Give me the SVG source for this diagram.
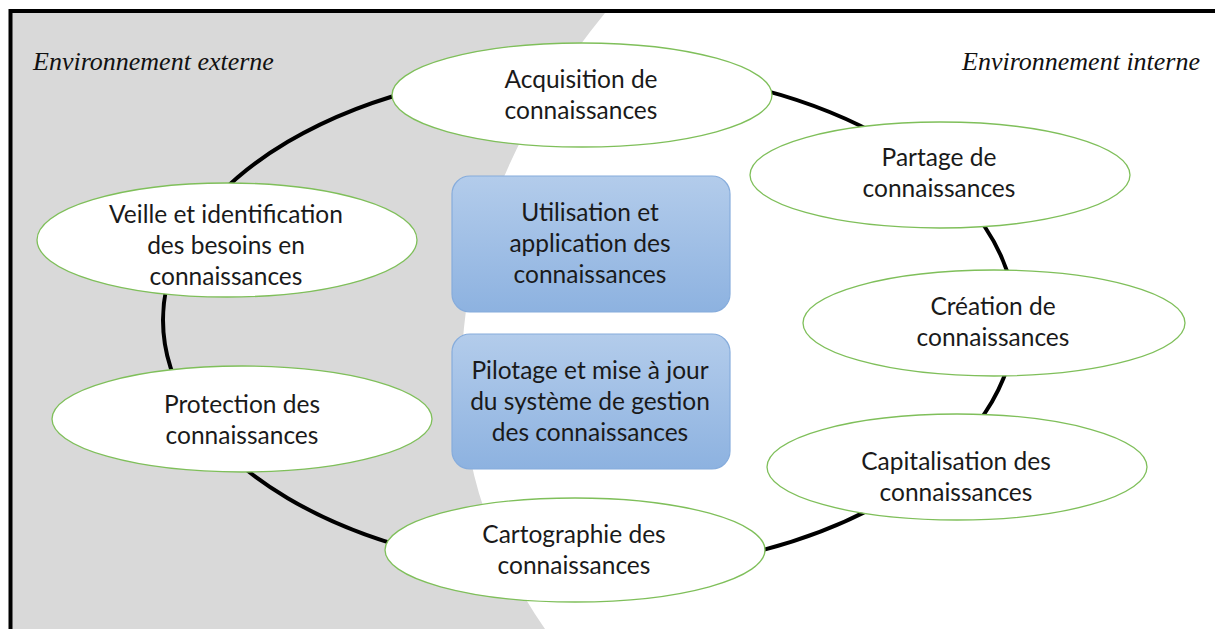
<svg xmlns="http://www.w3.org/2000/svg" width="1215" height="629" viewBox="0 0 1215 629">
<defs>
<linearGradient id="blueGrad" x1="0" y1="0" x2="0" y2="1">
<stop offset="0" stop-color="#b3cceb"/>
<stop offset="1" stop-color="#8db2e0"/>
</linearGradient>
<style>
.node ellipse{fill:#ffffff;stroke:#7fbf5a;stroke-width:1.3}
.box rect{fill:url(#blueGrad);stroke:#86acdc;stroke-width:1.2}
.lbl{font-family:"Lato","Open Sans",sans-serif;font-size:24.5px;fill:#1a1a1a;text-anchor:middle}
.env{font-family:"Liberation Serif","Times New Roman",serif;font-style:italic;font-size:26px;fill:#111}
.ring{fill:none;stroke:#000;stroke-width:4}
</style>
</defs>
<rect x="0" y="0" width="1215" height="629" fill="#ffffff"/>
<path d="M12,13 L605,13 C460,190 400,420 545,629 L12,629 Z" fill="#d9d9d9"/>
<path d="M10.5,629 L10.5,11 L1215,11" fill="none" stroke="#000" stroke-width="4"/>
<text class="env" x="33" y="70">Environnement externe</text>
<text class="env" x="962" y="70">Environnement interne</text>
<g id="connectors">
<ellipse class="ring" cx="589" cy="320" rx="426" ry="252"/>
</g>
<g id="n-acquisition" class="node">
<ellipse cx="582" cy="95" rx="190" ry="52"/>
<text class="lbl" x="581" y="88">Acquisition de</text>
<text class="lbl" x="581" y="119">connaissances</text>
</g>
<g id="n-partage" class="node">
<ellipse cx="940" cy="175" rx="190" ry="53"/>
<text class="lbl" x="939" y="166">Partage de</text>
<text class="lbl" x="939" y="197">connaissances</text>
</g>
<g id="n-creation" class="node">
<ellipse cx="994" cy="323" rx="191" ry="53"/>
<text class="lbl" x="993" y="315">Création de</text>
<text class="lbl" x="993" y="346">connaissances</text>
</g>
<g id="n-capitalisation" class="node">
<ellipse cx="957" cy="467" rx="190" ry="53"/>
<text class="lbl" x="956" y="470">Capitalisation des</text>
<text class="lbl" x="956" y="501">connaissances</text>
</g>
<g id="n-cartographie" class="node">
<ellipse cx="575" cy="550" rx="190" ry="52"/>
<text class="lbl" x="574" y="543">Cartographie des</text>
<text class="lbl" x="574" y="574">connaissances</text>
</g>
<g id="n-protection" class="node">
<ellipse cx="242" cy="419" rx="190" ry="53"/>
<text class="lbl" x="242" y="413">Protection des</text>
<text class="lbl" x="242" y="444">connaissances</text>
</g>
<g id="n-veille" class="node">
<ellipse cx="227" cy="240" rx="190" ry="57"/>
<text class="lbl" x="226" y="223">Veille et identification</text>
<text class="lbl" x="226" y="254">des besoins en</text>
<text class="lbl" x="226" y="285">connaissances</text>
</g>
<g id="n-utilisation" class="box">
<rect x="452" y="176" width="278" height="136" rx="18"/>
<text class="lbl" x="590" y="221">Utilisation et</text>
<text class="lbl" x="590" y="252">application des</text>
<text class="lbl" x="590" y="283">connaissances</text>
</g>
<g id="n-pilotage" class="box">
<rect x="452" y="334" width="278" height="135" rx="18"/>
<text class="lbl" x="590" y="379">Pilotage et mise à jour</text>
<text class="lbl" x="590" y="410">du système de gestion</text>
<text class="lbl" x="590" y="441">des connaissances</text>
</g>
</svg>
